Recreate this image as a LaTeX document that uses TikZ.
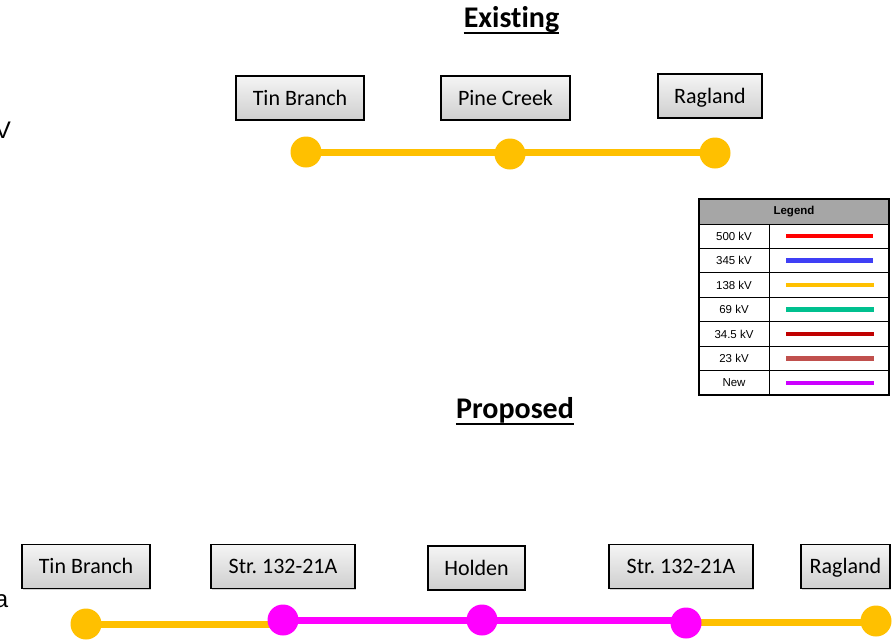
\documentclass[tikz,border=0pt]{standalone}
\usepackage{fontspec}
\setmainfont{Carlito}[Ligatures={NoCommon,NoDiscretionary,NoContextual}]
\newfontfamily\arialf{Liberation Sans}
\usetikzlibrary{shadows}
\frenchspacing
\definecolor{kv138}{HTML}{FFC000}
\definecolor{newc}{HTML}{FF00FF}
\definecolor{l500}{HTML}{FF0000}
\definecolor{l345}{HTML}{3F3FF5}
\definecolor{l69}{HTML}{00C08F}
\definecolor{l345b}{HTML}{C00000}
\definecolor{l23}{HTML}{C0504D}
\definecolor{lnew}{HTML}{CC00FF}
\definecolor{hdr}{HTML}{A6A6A6}
\tikzset{
  subbox/.style={draw=black, line width=1.3pt, top color=gray!8, bottom color=gray!38,
    font=\fontsize{22}{25}\selectfont, minimum height=44pt, inner sep=0pt,
    text height=16pt, text depth=2pt,
    drop shadow={shadow xshift=1.2pt, shadow yshift=-1.2pt, opacity=0.35}},
  busdot/.style={circle, minimum size=31pt, inner sep=0pt},
  ttl/.style={font=\fontsize{30}{34}\selectfont\bfseries, inner sep=0pt, anchor=base},
  legtxt/.style={font=\arialf\fontsize{11.5}{13}\selectfont, inner sep=0pt},
  legline/.style={line width=4.5pt},
  frag/.style={font=\arialf\fontsize{24}{28}\selectfont, inner sep=0pt, anchor=base east}
}
\begin{document}
\begin{tikzpicture}[x=1pt,y=-1pt]
\useasboundingbox[fill=white] (0,0) rectangle (894,640);
% titles
\node[ttl] (t1) at (511.5,27.5) {Existing};
\draw[line width=2pt] ([yshift=-5.5pt]t1.base west) -- ([yshift=-5.5pt]t1.base east);
\node[ttl] (t2) at (515,418) {Proposed};
\draw[line width=2pt] ([yshift=-5.5pt]t2.base west) -- ([yshift=-5.5pt]t2.base east);
% fragments at left edge
\node[frag] (f1) at (11,138) {V};
\node[frag] (f2) at (8.5,607) {a};
% existing
\node[subbox, minimum width=128pt] (e1) at (300,98) {Tin Branch};
\node[subbox, minimum width=129pt] (e2) at (505.5,98) {Pine Creek};
\node[subbox, minimum width=104pt] (e3) at (710,96) {Ragland};
\node[busdot] (d1) at (306,152) {};
\node[busdot] (d2) at (510,154) {};
\node[busdot] (d3) at (715,153) {};
\draw[kv138, line width=7pt] (d1.center) -- (d1.center -| d3.center);
\fill[kv138] (d1) circle (15.5pt) (d2) circle (15.5pt) (d3) circle (15.5pt);
% proposed
\node[subbox, minimum width=128pt] (p1) at (86,566.5) {Tin Branch};
\node[subbox, minimum width=144pt] (p2) at (283,566.5) {Str. 132-21A};
\node[subbox, minimum width=97pt] (p3) at (476.5,568) {Holden};
\node[subbox, minimum width=144pt] (p4) at (681,566.5) {Str. 132-21A};
\node[subbox, minimum width=89pt] (p5) at (845.5,566.5) {Ragland};
\node[busdot] (q1) at (86,624) {};
\node[busdot] (q2) at (283,620) {};
\node[busdot] (q3) at (482,620) {};
\node[busdot] (q4) at (686,623) {};
\node[busdot] (q5) at (876,621) {};
\draw[kv138, line width=7pt] (q1.center) -- (q1.center -| q2.center);
\draw[kv138, line width=7pt] (q4.center |- 0,622) -- (q5.center |- 0,622);
\draw[newc, line width=7pt] (q2.center) -- (q2.center -| q4.center);
\fill[kv138] (q1) circle (15.5pt) (q5) circle (15.5pt);
\fill[newc] (q2) circle (15.5pt) (q3) circle (15.5pt) (q4) circle (15.5pt);
% legend
\fill[hdr] (699,199) rectangle (889,224);
\draw[line width=1.2pt] (699,199) rectangle (889,395);
\foreach \i in {0,...,6} {
  \draw[line width=1pt] (699,{224+24.43*\i}) -- (889,{224+24.43*\i});
}
\draw[line width=1pt] (769,224) -- (769,395);
\node[legtxt, font=\arialf\fontsize{11.5}{13}\selectfont\bfseries] (lh) at (794,212) {Legend};
\node[legtxt] (la) at (734,{236.2+24.43*0}) {500 kV};
\node[legtxt] (lb) at (734,{236.2+24.43*1}) {345 kV};
\node[legtxt] (lc) at (734,{236.2+24.43*2}) {138 kV};
\node[legtxt] (ld) at (734,{236.2+24.43*3}) {69 kV};
\node[legtxt] (le) at (734,{236.2+24.43*4}) {34.5 kV};
\node[legtxt] (lf) at (734,{236.2+24.43*5}) {23 kV};
\node[legtxt] (lg) at (734,{236.2+24.43*6}) {New};
\coordinate (ca1) at (786,{236.2+24.43*0}); \coordinate (ca2) at (873,{236.2+24.43*0});
\coordinate (cb1) at (786,{236.2+24.43*1}); \coordinate (cb2) at (873,{236.2+24.43*1});
\coordinate (cc1) at (786,{236.2+24.43*2}); \coordinate (cc2) at (874,{236.2+24.43*2});
\coordinate (cd1) at (786,{236.2+24.43*3}); \coordinate (cd2) at (874,{236.2+24.43*3});
\coordinate (ce1) at (786,{236.2+24.43*4}); \coordinate (ce2) at (874,{236.2+24.43*4});
\coordinate (cf1) at (786,{236.2+24.43*5}); \coordinate (cf2) at (874,{236.2+24.43*5});
\coordinate (cg1) at (786,{236.2+24.43*6}); \coordinate (cg2) at (874,{236.2+24.43*6});
\draw[legline, l500] (ca1) -- (ca2);
\draw[legline, l345] (cb1) -- (cb2);
\draw[legline, kv138] (cc1) -- (cc2);
\draw[legline, l69] (cd1) -- (cd2);
\draw[legline, l345b] (ce1) -- (ce2);
\draw[legline, l23] (cf1) -- (cf2);
\draw[legline, lnew] (cg1) -- (cg2);
\end{tikzpicture}
\end{document}
